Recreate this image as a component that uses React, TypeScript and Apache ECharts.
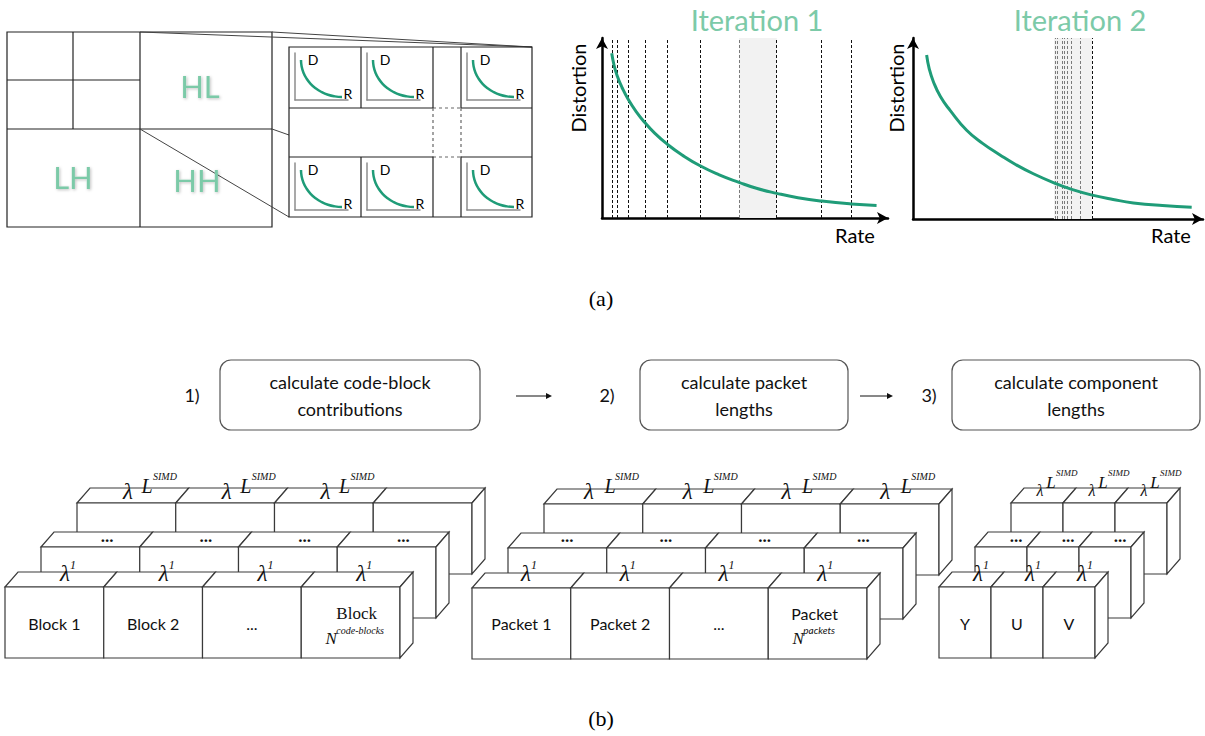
import React, { useEffect, useRef } from 'react';
import * as echarts from 'echarts';

// ---------- data ----------
const rdRate1 = [3.4, 4.2, 5.3, 7.0, 9.2, 12.0, 15.0, 18.5, 22.8, 28.0, 34.3, 41.0, 47.9, 54.0, 61.1, 68.5, 76.8, 87.1, 96.0];
const rdDist1 = [91.5, 85.0, 79.0, 72.5, 65.8, 59.0, 53.0, 47.0, 41.0, 35.0, 29.0, 24.0, 19.8, 16.5, 13.7, 11.3, 9.4, 7.8, 7.0];
const guides1 = [3.7, 5.3, 9.2, 15.0, 22.8, 34.3, 47.9, 61.1, 76.8, 87.1];
const band1 = [47.9, 61.1];

const rdRate2 = [4.7, 5.6, 7.0, 9.5, 12.8, 18.5, 24.0, 30.0, 35.5, 41.5, 49.0, 55.0, 61.8, 69.0, 76.0, 86.0, 96.1];
const rdDist2 = [90.6, 83.0, 76.0, 67.5, 60.0, 49.0, 41.8, 35.4, 30.0, 25.0, 19.7, 16.2, 13.2, 10.8, 8.9, 7.4, 6.5];
const guides2 = [49.0, 49.7, 51.4, 52.1, 53.1, 54.5, 57.6, 61.7];
const band2 = [48.6, 61.7];

const miniRate = [11.3, 12.5, 16.0, 21.7, 29.4, 38.9, 50.0, 62.3, 75.3, 88.7];
const miniDist = [85.1, 71.5, 58.1, 45.7, 34.5, 24.9, 17.0, 11.1, 7.7, 6.4];

const iterationTitles = ['Iteration 1', 'Iteration 2'];
const subbands = ['HL', 'LH', 'HH'];
const steps = ['calculate code-block\ncontributions', 'calculate packet\nlengths', 'calculate component\nlengths'];
const stepNumbers = ['1)', '2)', '3)'];
const blockLabels = ['Block 1', 'Block 2', '...', 'Block'];
const packetLabels = ['Packet 1', 'Packet 2', '...', 'Packet'];
const componentLabels = ['Y', 'U', 'V'];
const lastSuper = ['code-blocks', 'packets', ''];
const panelLabels = ['(a)', '(b)'];

// ---------- style ----------
const GREEN = '#1f9c78';
const LIGHT_GREEN = '#7ccaa8';
const SANS = 'Lato, "Open Sans", sans-serif';
const SERIF = '"Liberation Serif", "DejaVu Serif", serif';
const STROKE = '#3a3a3a';

const zip = (a: number[], b: number[]) => a.map((v, i) => [v, b[i]]);

function T(text: string, x: number, y: number, size: number, o: any = {}) {
  return {
    type: 'text', x, y, z: 40, rotation: o.rot || 0,
    style: {
      text, fontSize: size, fontFamily: o.family || SANS,
      fontStyle: o.italic ? 'italic' : 'normal', fontWeight: o.bold ? 'bold' : 'normal',
      fill: o.color || '#111', align: o.align || 'center', verticalAlign: o.va || 'middle',
      lineHeight: o.lh, textShadowBlur: o.blur || 0, textShadowColor: o.shadow || 'transparent',
      textShadowOffsetX: o.blur ? 1 : 0, textShadowOffsetY: o.blur ? 1 : 0,
    },
  };
}
function Ln(x1: number, y1: number, x2: number, y2: number, o: any = {}) {
  return {
    type: 'line', z: o.z || 5, shape: { x1, y1, x2, y2 },
    style: { stroke: o.color || '#222', lineWidth: o.w || 1.2, lineDash: o.dash || null },
  };
}

const DX = 13, DY = -15, BH = 71;

function prismRow(x: number, y: number, w: number, n: number, z: number) {
  const els: any[] = [];
  const st = { fill: '#fff', stroke: STROKE, lineWidth: 1.2 };
  for (let i = 0; i < n; i++) {
    const bx = x + i * w;
    els.push({ type: 'polygon', z, shape: { points: [[bx, y], [bx + DX, y + DY], [bx + w + DX, y + DY], [bx + w, y]] }, style: st });
    els.push({ type: 'rect', z, shape: { x: bx, y, width: w, height: BH }, style: st });
  }
  const rx = x + n * w;
  els.push({ type: 'polygon', z, shape: { points: [[rx, y], [rx + DX, y + DY], [rx + DX, y + BH + DY], [rx, y + BH]] }, style: st });
  return els;
}

function blockGroup(g: any) {
  const els: any[] = [];
  const n = g.labels.length;
  const back = { x: g.x + 72, y: g.y - 84 };
  const mid = { x: g.x + 36, y: g.y - 40 };
  els.push(...prismRow(back.x, back.y, g.w, n, 10));
  els.push(...prismRow(mid.x, mid.y, g.w, n, 11));
  els.push(...prismRow(g.x, g.y, g.w, n, 12));
  for (let i = 0; i < g.topCount; i++) {
    const bx = back.x + i * g.w;
    els.push(T('λ', bx + g.lamX, g.small ? 490 : 491, g.small ? 16 : 23, { family: SERIF, italic: true }));
    els.push(T('L', bx + g.LX, g.small ? 482 : 486, g.small ? 17 : 20, { family: SERIF, italic: true }));
    els.push(T('SIMD', bx + g.supX, g.small ? 473 : 476, g.small ? 9 : 10, { family: SERIF, italic: true, align: 'left' }));
  }
  for (let i = 0; i < n; i++) {
    els.push(T('...', mid.x + i * g.w + g.dotX, 536, 17, { family: SERIF, bold: true }));
  }
  for (let i = 0; i < n; i++) {
    const bx = g.x + i * g.w + g.lam1X;
    els.push(T('λ', bx, 573, 23, { family: SERIF, italic: true }));
    els.push(T('1', bx + 8, 565, 12, { family: SERIF, italic: true }));
  }
  for (let i = 0; i < n; i++) {
    const cx = g.x + i * g.w + g.w / 2;
    if (i === n - 1 && g.sup) {
      els.push(T(g.labels[i], cx + g.lastDx, 613, g.lastSerif ? 17 : 16, { family: g.lastSerif ? SERIF : SANS }));
      const fx = g.x + i * g.w;
      els.push(T('N', fx + 30, 638, 17, { family: SERIF, italic: true }));
      els.push(T(g.sup, fx + 35, 630, 10, { family: g.supSans ? SANS : SERIF, italic: true, align: 'left' }));
    } else {
      els.push(T(g.labels[i], cx, 623, 16));
    }
  }
  return els;
}

function buildOption() {
  const grids: any[] = [];
  const xAxes: any[] = [];
  const yAxes: any[] = [];
  const series: any[] = [];
  const graphic: any[] = [];

  const mainAxis = (gi: number) => ({
    gridIndex: gi, type: 'value', min: 0, max: 100,
    axisLine: { show: true, onZero: false, symbol: ['none', 'arrow'], symbolSize: [9, 11], lineStyle: { color: '#000', width: 2.5 } },
    axisTick: { show: false }, axisLabel: { show: false }, splitLine: { show: false },
  });
  const miniAxis = (gi: number) => ({
    gridIndex: gi, type: 'value', min: 0, max: 100,
    axisLine: { show: true, onZero: false, lineStyle: { color: '#8c8c8c', width: 1.5 } },
    axisTick: { show: false }, axisLabel: { show: false }, splitLine: { show: false },
  });

  const mains = [
    { left: 602, top: 38, width: 286, height: 180, rate: rdRate1, dist: rdDist1, guides: guides1, band: band1, title: 757, distX: 578, rateX: 855 },
    { left: 913, top: 38, width: 290, height: 181, rate: rdRate2, dist: rdDist2, guides: guides2, band: band2, title: 1080, distX: 896, rateX: 1171 },
  ];
  mains.forEach((m, i) => {
    const gi = grids.length;
    grids.push({ left: m.left, top: m.top, width: m.width, height: m.height });
    xAxes.push(mainAxis(gi));
    yAxes.push(mainAxis(gi));
    series.push({
      type: 'line', xAxisIndex: gi, yAxisIndex: gi, data: zip(m.rate, m.dist), showSymbol: false,
      lineStyle: { opacity: 0 }, z: 1, silent: true,
      markArea: { silent: true, itemStyle: { color: '#f2f2f2' }, data: [[{ xAxis: m.band[0] }, { xAxis: m.band[1] }]] },
      markLine: {
        silent: true, symbol: ['none', 'none'], label: { show: false },
        data: m.guides.map((v) => ({
          xAxis: v,
          lineStyle: { color: v >= m.band[0] && v < m.band[1] ? '#7a7a7a' : '#111', type: [3, 2], width: 1 },
        })),
      },
    });
    series.push({
      type: 'line', xAxisIndex: gi, yAxisIndex: gi, data: zip(m.rate, m.dist), smooth: 0.5,
      showSymbol: false, lineStyle: { color: GREEN, width: 3 }, z: 5, silent: true,
    });
    graphic.push(T(iterationTitles[i], m.title, 19, 29, { color: LIGHT_GREEN }));
    graphic.push(T('Distortion', m.distX, 88, 20, { rot: Math.PI / 2, color: '#000' }));
    graphic.push(T('Rate', m.rateX, 235, 20, { color: '#000' }));
  });

  const cellCols = [289, 361, 461];
  const cellRows = [47, 157];
  cellRows.forEach((cy) => {
    cellCols.forEach((cx) => {
      const gi = grids.length;
      grids.push({ left: cx + 6, top: cy + 6, width: 53, height: 47 });
      xAxes.push(miniAxis(gi));
      yAxes.push(miniAxis(gi));
      series.push({
        type: 'line', xAxisIndex: gi, yAxisIndex: gi, data: zip(miniRate, miniDist), smooth: 0.5,
        showSymbol: false, lineStyle: { color: GREEN, width: 2.5 }, silent: true,
      });
      graphic.push(T('D', cx + 24, cy + 12, 14, { color: '#000' }));
      graphic.push(T('R', cx + 59, cy + 46, 14, { color: '#000' }));
    });
  });

  graphic.push({ type: 'rect', z: 5, shape: { x: 7, y: 32, width: 265, height: 195 }, style: { fill: 'none', stroke: '#222', lineWidth: 1.2 } });
  graphic.push(Ln(140, 32, 140, 227));
  graphic.push(Ln(7, 129, 272, 129));
  graphic.push(Ln(73, 32, 73, 129));
  graphic.push(Ln(7, 80, 140, 80));
  graphic.push(T(subbands[0], 200, 86, 31, { color: LIGHT_GREEN, blur: 3, shadow: 'rgba(0,0,0,0.25)' }));
  graphic.push(T(subbands[1], 73, 177, 31, { color: LIGHT_GREEN, blur: 3, shadow: 'rgba(0,0,0,0.25)' }));
  graphic.push(T(subbands[2], 197, 180, 31, { color: LIGHT_GREEN, blur: 3, shadow: 'rgba(0,0,0,0.25)' }));
  graphic.push(Ln(140, 32, 532, 47, { w: 1, color: '#444' }));
  graphic.push(Ln(272, 32, 532, 47, { w: 1, color: '#444' }));
  graphic.push(Ln(272, 129, 289, 135, { w: 1, color: '#444' }));
  graphic.push(Ln(140, 129, 289, 217, { w: 1, color: '#444' }));
  graphic.push({ type: 'rect', z: 5, shape: { x: 289, y: 47, width: 243, height: 170 }, style: { fill: 'none', stroke: '#222', lineWidth: 1.2 } });
  [108, 157].forEach((y) => {
    graphic.push(Ln(289, y, 433, y));
    graphic.push(Ln(461, y, 532, y));
    graphic.push(Ln(433, y, 461, y, { dash: [3, 3], color: '#666' }));
  });
  graphic.push(Ln(361, 47, 361, 108));
  graphic.push(Ln(361, 157, 361, 217));
  [433, 461].forEach((x) => {
    graphic.push(Ln(x, 47, x, 108));
    graphic.push(Ln(x, 157, x, 217));
    graphic.push(Ln(x, 108, x, 157, { dash: [3, 3], color: '#666' }));
  });

  graphic.push(T(panelLabels[0], 601, 298, 22, { family: SERIF, color: '#000' }));
  graphic.push(T(panelLabels[1], 601, 718, 22, { family: SERIF, color: '#000' }));

  const boxes = [
    { x: 220, w: 260, num: 192 },
    { x: 640, w: 208, num: 607 },
    { x: 952, w: 248, num: 929 },
  ];
  boxes.forEach((b, i) => {
    graphic.push({ type: 'rect', z: 5, shape: { x: b.x, y: 360, width: b.w, height: 70, r: 11 }, style: { fill: '#fff', stroke: '#555', lineWidth: 1.2 } });
    graphic.push(T(steps[i], b.x + b.w / 2, 395, 18, { lh: 27, color: '#111' }));
    graphic.push(T(stepNumbers[i], b.num, 395, 18, { color: '#111' }));
  });
  [[516, 552], [860, 893]].forEach(([a, b]) => {
    graphic.push(Ln(a, 396, b - 2, 396, { w: 1, color: '#111' }));
    graphic.push({ type: 'polygon', z: 6, shape: { points: [[b, 396], [b - 6, 393], [b - 6, 399]] }, style: { fill: '#111' } });
  });

  graphic.push(...blockGroup({ x: 5, y: 587, w: 98.75, labels: blockLabels, topCount: 3, lamX: 51, LX: 70, supX: 76, dotX: 66, lam1X: 60, sup: lastSuper[0], lastSerif: true, lastDx: 6 }));
  graphic.push(...blockGroup({ x: 472, y: 588, w: 98.75, labels: packetLabels, topCount: 4, lamX: 45, LX: 66, supX: 71, dotX: 59, lam1X: 54, sup: lastSuper[1], supSans: true, lastDx: -3 }));
  graphic.push(...blockGroup({ x: 939, y: 587, w: 52, labels: componentLabels, topCount: 3, lamX: 29, LX: 40, supX: 45, dotX: 41, lam1X: 39, sup: lastSuper[2], small: true, lastDx: 0 }));

  return {
    animation: false,
    backgroundColor: '#fff',
    grid: grids,
    xAxis: xAxes,
    yAxis: yAxes,
    series,
    graphic: { elements: graphic },
  };
}

export default function App() {
  const ref = useRef<HTMLDivElement>(null);
  useEffect(() => {
    const chart = echarts.init(ref.current!, null, { renderer: 'svg' });
    chart.setOption(buildOption() as any);
    return () => chart.dispose();
  }, []);
  return (
    <div
      ref={ref}
      style={{ position: 'fixed', left: 0, top: 0, width: 1205, height: 736, background: '#fff' }}
    />
  );
}
